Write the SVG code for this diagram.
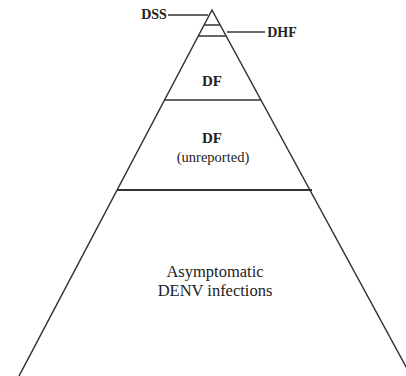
<svg xmlns="http://www.w3.org/2000/svg" width="406" height="376" viewBox="0 0 406 376">
<style>
.ln{stroke:#333;stroke-width:1.5;fill:none}
.t{font-family:"Liberation Serif","Times New Roman",serif;fill:#222;text-anchor:middle}
.b{font-weight:bold}
</style>
<rect width="406" height="376" fill="#fff"/>
<g id="pyramid">
<path class="ln" d="M19,376 L212,10 L411,376"/>
</g>
<g id="dss"><line class="ln" x1="204" y1="25" x2="220" y2="25"/><text class="t b" x="154" y="19" font-size="14">DSS</text></g>
<g id="dhf"><line class="ln" x1="198" y1="36" x2="226" y2="36"/><text class="t b" x="282" y="37" font-size="14">DHF</text></g>
<g id="df"><line class="ln" x1="164" y1="100" x2="261" y2="100"/><text class="t b" x="212" y="86" font-size="15">DF</text></g>
<g id="df-unreported"><line class="ln" x1="117" y1="190" x2="312" y2="190" style="stroke-width:2"/><text class="t b" x="212" y="143" font-size="15">DF</text><text class="t" x="213" y="162" font-size="14.5">(unreported)</text></g>
<g id="asymptomatic"><text class="t" x="215" y="277" font-size="16.5">Asymptomatic</text><text class="t" x="215" y="296" font-size="16.5">DENV infections</text></g>
<g id="connectors">
<line class="ln" x1="168" y1="15" x2="208" y2="15"/>
<line class="ln" x1="227" y1="32" x2="265" y2="32"/>
</g>
</svg>
